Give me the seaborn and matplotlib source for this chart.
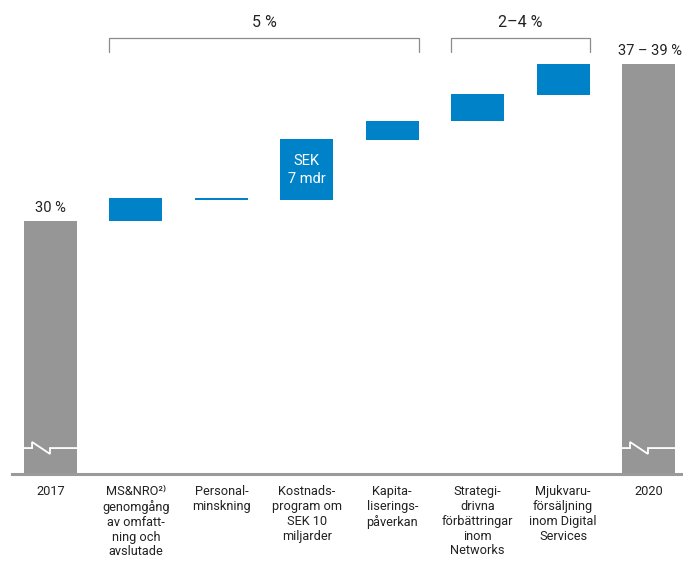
import matplotlib
matplotlib.use("Agg")
import matplotlib.pyplot as plt
import seaborn as sns
import pandas as pd

# ---- data ----
categories = ["2017", "MS&NRO²⁾\ngenomgång\nav omfatt-\nning och\navslutade",
              "Personal-\nminskning", "Kostnads-\nprogram om\nSEK 10\nmiljarder",
              "Kapita-\nliserings-\npåverkan", "Strategi-\ndrivna\nförbättringar\ninom\nNetworks",
              "Mjukvaru-\nförsäljning\ninom Digital\nServices", "2020"]
total_categories = ["2017", "2020"]
total_values = [30.0, 38.0]
total_labels = ["30 %", "37 – 39 %"]
step_low = [30.0, 31.05, 31.07, 34.13, 35.10, 36.42]
step_high = [31.15, 31.17, 34.18, 35.10, 36.47, 38.0]
bar_note = "SEK\n7 mdr"
group_labels = ["5 %", "2–4 %"]

GRAY = "#969696"
BLUE = "#0082c8"
TXT = "#222222"

sns.set_theme(style="white")
plt.rcParams["font.family"] = ["Roboto", "DejaVu Sans"]

fig = plt.figure(figsize=(6.83, 5.61), dpi=100)
ax = fig.add_axes([12 / 683, 87 / 561, 671 / 683, 474 / 561])

W = 0.62
df_tot = pd.DataFrame({"cat": [categories[0], categories[-1]], "val": total_values})
sns.barplot(data=df_tot, x="cat", y="val", order=categories, color=GRAY,
            saturation=1, width=W, ax=ax)
for p in ax.patches:
    p.set_facecolor(GRAY)
    p.set_edgecolor("none")

pos = list(range(1, 7))
heights = [h - l for l, h in zip(step_low, step_high)]
ax.bar(pos, heights, bottom=step_low, width=W, color=BLUE, edgecolor="none", zorder=2)

ybot = 30 - (474 - 221) / 19.625
ytop = 38 + 64 / 19.625
ax.set_ylim(ybot, ytop)
ax.set_xlim(-0.4507, 7.404)

# break marks on total bars
for x in [0, 7]:
    xs = [x - W / 2, x - 0.216, x - 0.216, x - 0.006, x - 0.006, x + W / 2]
    ys = [18.43, 18.43, 18.74, 18.13, 18.43, 18.43]
    ax.plot(xs, ys, color="white", lw=1.3, zorder=3, solid_joinstyle="miter")

# value labels
ax.text(0, 30.66, total_labels[0], ha="center", va="center", fontsize=10.5, color=TXT)
ax.text(7.02, 38.66, total_labels[1], ha="center", va="center", fontsize=10.5, color=TXT)
ax.text(3, 32.6, bar_note, ha="center", va="center", fontsize=10.5, color="white",
        linespacing=1.35, zorder=4)

# brackets
for (x0, x1), lab in zip([(1 - W / 2, 4 + W / 2), (5 - W / 2, 6 + W / 2)], group_labels):
    ax.plot([x0, x0, x1, x1], [38.61, 39.33, 39.33, 38.61], color="#8c8c8c", lw=0.9,
            clip_on=False)
    ax.text((x0 + x1) / 2, 40.09, lab, ha="center", va="center", fontsize=11.5, color=TXT)

# axes styling
for s in ["top", "right", "left"]:
    ax.spines[s].set_visible(False)
ax.spines["bottom"].set_color("#9a9a9a")
ax.spines["bottom"].set_linewidth(2.2)
ax.set_yticks([])
ax.set_xticks(range(8))
ax.set_xticklabels(categories, fontsize=9.2, color=TXT, linespacing=1.18, va="top")
ax.tick_params(axis="x", which="major", length=0, pad=8)
ax.set_xticks([i + 0.5 for i in range(7)], minor=True)
ax.tick_params(axis="x", which="minor", direction="in", length=8.5, width=0.9,
               color="#bbbbbb")
ax.set_xlabel("")
ax.set_ylabel("")

fig.savefig("out.png", dpi=100)
